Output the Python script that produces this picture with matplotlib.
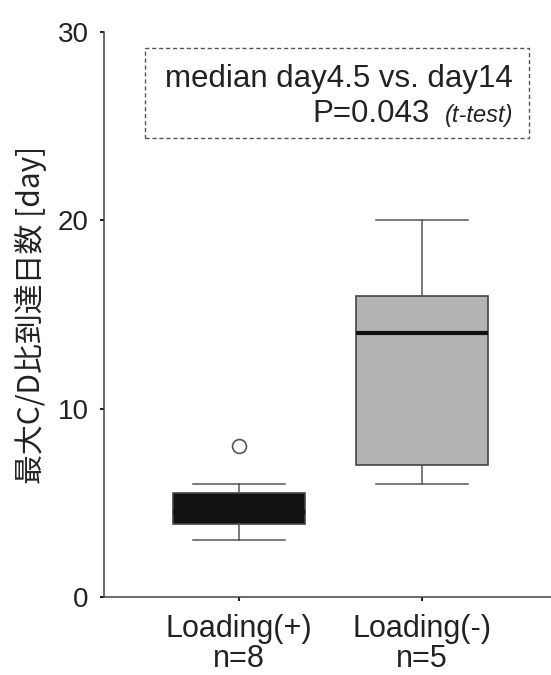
import matplotlib.pyplot as plt
import matplotlib.patches as mpatches

plt.rcParams['font.family'] = ['Liberation Sans', 'Noto Sans CJK JP', 'DejaVu Sans']

# box plot summary values
groups = ['Loading(+)\nn=8', 'Loading(-)\nn=5']
q1 = [3.9, 7.0]
med = [4.5, 14.0]
q3 = [5.5, 16.0]
whislo = [3.0, 6.0]
whishi = [6.0, 20.0]
fliers = [[8.0], []]
box_colors = ['#111111', '#b3b3b3']

stats = []
for i in range(len(groups)):
    stats.append({'label': groups[i], 'q1': q1[i], 'med': med[i], 'q3': q3[i],
                  'whislo': whislo[i], 'whishi': whishi[i], 'fliers': fliers[i]})

fig = plt.figure(figsize=(5.51, 6.75), dpi=100)
ax = fig.add_axes([0.1887, 0.1156, 0.8113, 0.837])

bp = ax.bxp(stats, positions=[1, 2], widths=0.72, patch_artist=True,
            boxprops=dict(edgecolor='#444444', linewidth=1.2),
            whiskerprops=dict(color='#555555', linewidth=1.1),
            capprops=dict(color='#555555', linewidth=1.1),
            medianprops=dict(color='#111111', linewidth=3),
            flierprops=dict(marker='o', markerfacecolor='white',
                            markeredgecolor='#555555', markersize=10,
                            markeredgewidth=1.2))
for patch, c in zip(bp['boxes'], box_colors):
    patch.set_facecolor(c)
# caps a bit narrower than the boxes
for cap in bp['caps']:
    xd = cap.get_xdata()
    mid = (xd[0] + xd[1]) / 2
    cap.set_xdata([mid - 0.25, mid + 0.25])

ax.set_xlim(0.262, 2.705)
ax.set_ylim(0, 30)
ax.set_yticks([0, 10, 20, 30])
ax.spines['top'].set_visible(False)
ax.spines['right'].set_visible(False)
for s in ['left', 'bottom']:
    ax.spines[s].set_color('#444444')
    ax.spines[s].set_linewidth(1.1)
ax.tick_params(axis='both', length=3, width=1.5, color='#222222',
               labelcolor='#222222')
ax.tick_params(axis='y', pad=8, labelsize=20)
ax.tick_params(axis='x', pad=9, labelsize=22)
for lbl in ax.get_xticklabels():
    lbl.set_linespacing(1.0)

ax.set_ylabel('最大C/D比到達日数 [day]', fontsize=21.5, color='#222222',
              family=['Noto Sans CJK JP', 'DejaVu Sans'], labelpad=8)

# dashed annotation box
rect = mpatches.Rectangle((0.092, 0.812), 0.859, 0.160, transform=ax.transAxes,
                          fill=False, edgecolor='#555555', linestyle=(0, (3, 2)),
                          linewidth=1.0, clip_on=False)
ax.add_patch(rect)
ax.text(0.915, 0.903, 'median day4.5 vs. day14', transform=ax.transAxes,
        ha='right', va='baseline', fontsize=22.5, color='#222222')
ax.text(0.729, 0.841, 'P=0.043', transform=ax.transAxes,
        ha='right', va='baseline', fontsize=22.5, color='#222222')
ax.text(0.915, 0.841, '(t-test)', transform=ax.transAxes,
        ha='right', va='baseline', fontsize=17, style='italic', color='#222222')

plt.savefig('out.png', dpi=100)
